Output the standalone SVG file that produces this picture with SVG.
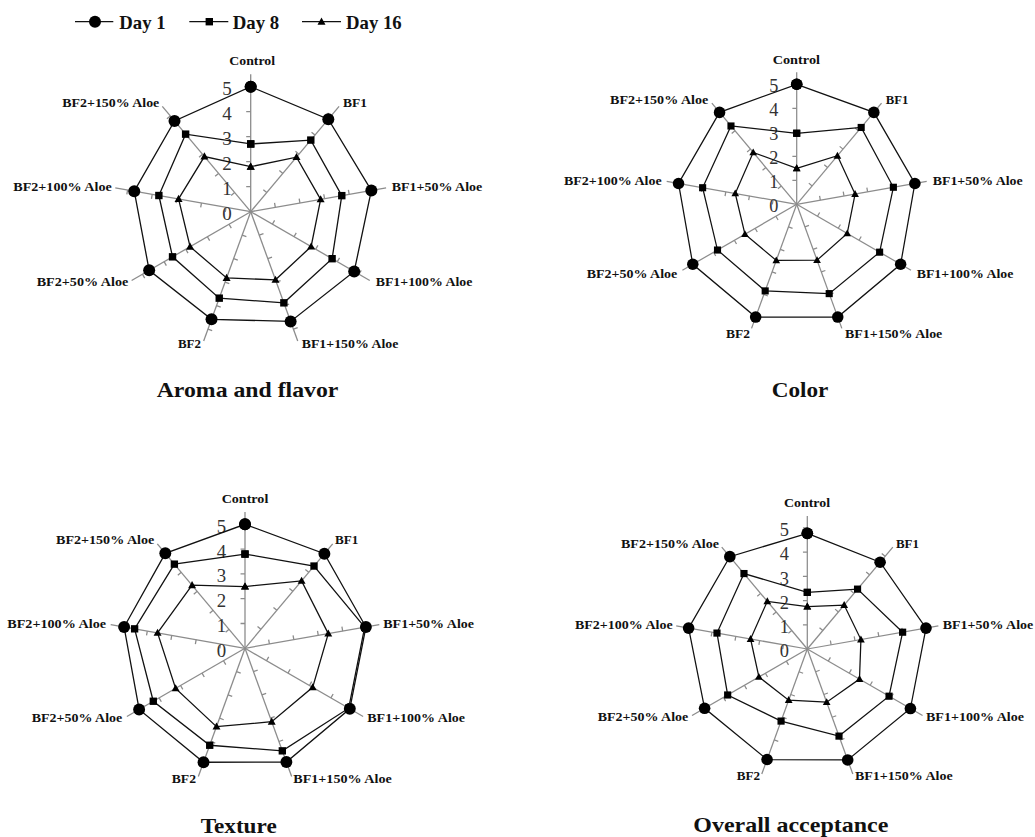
<svg xmlns="http://www.w3.org/2000/svg" xmlns:xlink="http://www.w3.org/1999/xlink" width="1035" height="837" viewBox="0 0 1035 837">
<style>
.ax{stroke:#8c8c8c;stroke-width:1.3;fill:none}
.ser{fill:none;stroke:#111;stroke-width:1.3}
.d1{marker-start:url(#mc);marker-mid:url(#mc);marker-end:url(#mc)}
.d8{marker-start:url(#ms);marker-mid:url(#ms);marker-end:url(#ms)}
.d16{marker-start:url(#mt);marker-mid:url(#mt);marker-end:url(#mt)}
.num{font-family:"Liberation Serif","Times New Roman",serif;font-size:19px;fill:#333;text-anchor:end}
.lbl{font-family:"Liberation Serif","Times New Roman",serif;font-weight:bold;font-size:12.5px;fill:#111}
.ttl{font-family:"Liberation Serif","Times New Roman",serif;font-weight:bold;font-size:21px;fill:#111}
.leg{font-family:"Liberation Serif","Times New Roman",serif;font-weight:bold;font-size:19px;fill:#111}
</style>
<defs>
<marker id="mc" markerUnits="userSpaceOnUse" markerWidth="16" markerHeight="16" viewBox="-8 -8 16 16" refX="0" refY="0" orient="0"><circle r="6" fill="#000"/></marker>
<marker id="ms" markerUnits="userSpaceOnUse" markerWidth="16" markerHeight="16" viewBox="-8 -8 16 16" refX="0" refY="0" orient="0"><rect x="-3.7" y="-3.7" width="7.4" height="7.4" fill="#000"/></marker>
<marker id="mt" markerUnits="userSpaceOnUse" markerWidth="16" markerHeight="16" viewBox="-8 -8 16 16" refX="0" refY="0" orient="0"><polygon points="0,-4.2 4,3 -4,3" fill="#000"/></marker>
<g id="axis1">
<line class="ax" x1="0" y1="0" x2="0" y2="-137.5"/>
<path class="ax" d="M0,-25h-4.5M0,-50h-4.5M0,-75h-4.5M0,-100h-4.5M0,-125h-4.5"/>
</g>
<g id="axes">
<use xlink:href="#axis1"/>
<use xlink:href="#axis1" transform="rotate(40)"/>
<use xlink:href="#axis1" transform="rotate(80)"/>
<use xlink:href="#axis1" transform="rotate(120)"/>
<use xlink:href="#axis1" transform="rotate(160)"/>
<use xlink:href="#axis1" transform="rotate(200)"/>
<use xlink:href="#axis1" transform="rotate(240)"/>
<use xlink:href="#axis1" transform="rotate(280)"/>
<use xlink:href="#axis1" transform="rotate(320)"/>
</g>
<g id="nums">
<text class="num" x="-19" y="8.5">0</text>
<text class="num" x="-19" y="-16.5">1</text>
<text class="num" x="-19" y="-41.5">2</text>
<text class="num" x="-19" y="-66.5">3</text>
<text class="num" x="-19" y="-91.5">4</text>
<text class="num" x="-19" y="-116.5">5</text>
</g>
</defs>
<rect width="1035" height="837" fill="#fff"/>

<g id="legend">
<line x1="75" y1="21.7" x2="113.3" y2="21.7" stroke="#111" stroke-width="1.3"/>
<circle cx="95" cy="21.7" r="6" fill="#000"/>
<text class="leg" x="119.3" y="29.3" textLength="46.3" lengthAdjust="spacingAndGlyphs">Day 1</text>
<line x1="189.3" y1="21.7" x2="228.3" y2="21.7" stroke="#111" stroke-width="1.3"/>
<rect x="205.6" y="18" width="7.4" height="7.4" fill="#000"/>
<text class="leg" x="232.7" y="29.3" textLength="46.5" lengthAdjust="spacingAndGlyphs">Day 8</text>
<line x1="302" y1="21.7" x2="341" y2="21.7" stroke="#111" stroke-width="1.3"/>
<polygon points="321.5,17.5 325.5,24.7 317.5,24.7" fill="#000"/>
<text class="leg" x="346" y="29.3" textLength="55.7" lengthAdjust="spacingAndGlyphs">Day 16</text>
</g>

<g id="chart-aroma">
<g transform="translate(250.7,211.7)">
<use xlink:href="#axes"/>
<use xlink:href="#nums"/>
<polygon class="ser d1" points="0,-125 77.62,-92.49 120.64,-21.27 103.49,59.75 39.93,109.71 -39.16,107.6 -101.54,58.63 -116.45,-20.53 -76.17,-90.77"/>
<polygon class="ser d8" points="0,-67.75 60.1,-71.62 91.09,-16.06 81.4,47 33.17,91.15 -31.46,86.45 -78.16,45.13 -91.83,-16.19 -65.08,-77.56"/>
<polygon class="ser d16" points="0,-45 45.8,-54.58 69.92,-12.33 60.4,34.88 24.8,68.13 -24.11,66.25 -60.62,35 -72.14,-12.72 -46.28,-55.15"/>
</g>
<text class="lbl" x="229.3" y="65" textLength="45.7" lengthAdjust="spacingAndGlyphs">Control</text>
<text class="lbl" x="343" y="107" textLength="24" lengthAdjust="spacingAndGlyphs">BF1</text>
<text class="lbl" x="391.7" y="191" textLength="90.6" lengthAdjust="spacingAndGlyphs">BF1+50% Aloe</text>
<text class="lbl" x="375.7" y="286" textLength="96.6" lengthAdjust="spacingAndGlyphs">BF1+100% Aloe</text>
<text class="lbl" x="301.7" y="348" textLength="96.6" lengthAdjust="spacingAndGlyphs">BF1+150% Aloe</text>
<text class="lbl" x="178" y="348" textLength="23" lengthAdjust="spacingAndGlyphs">BF2</text>
<text class="lbl" x="36.7" y="286" textLength="91.6" lengthAdjust="spacingAndGlyphs">BF2+50% Aloe</text>
<text class="lbl" x="13.3" y="191" textLength="98.4" lengthAdjust="spacingAndGlyphs">BF2+100% Aloe</text>
<text class="lbl" x="62.3" y="107" textLength="97" lengthAdjust="spacingAndGlyphs">BF2+150% Aloe</text>
<text class="ttl" x="156.7" y="396.7" textLength="181.7" lengthAdjust="spacingAndGlyphs">Aroma and flavor</text>
</g>

<g id="chart-color">
<g transform="translate(796.7,204.3) scale(0.96)">
<use xlink:href="#axes"/>
<use xlink:href="#nums"/>
<polygon class="ser d1" points="0,-125 80.35,-95.75 123.1,-21.7 108.25,62.5 42.75,117.46 -42.75,117.46 -108.25,62.5 -123.1,-21.7 -80.35,-95.75"/>
<polygon class="ser d8" points="0,-74 67.17,-80.05 100.7,-17.75 86.38,49.88 33.86,93.03 -32.83,90.21 -82.49,47.63 -97.99,-17.27 -68.46,-81.58"/>
<polygon class="ser d16" points="0,-37.5 42.42,-50.56 60.81,-10.72 52.61,30.38 21.2,58.26 -21.29,58.5 -53.91,31.13 -64.01,-11.28 -45.32,-54"/>
</g>
<text class="lbl" x="772.7" y="64" textLength="47.3" lengthAdjust="spacingAndGlyphs">Control</text>
<text class="lbl" x="885.7" y="104" textLength="22.6" lengthAdjust="spacingAndGlyphs">BF1</text>
<text class="lbl" x="932.7" y="185" textLength="90" lengthAdjust="spacingAndGlyphs">BF1+50% Aloe</text>
<text class="lbl" x="916.7" y="277.5" textLength="96.6" lengthAdjust="spacingAndGlyphs">BF1+100% Aloe</text>
<text class="lbl" x="845" y="337.5" textLength="97.3" lengthAdjust="spacingAndGlyphs">BF1+150% Aloe</text>
<text class="lbl" x="726" y="337.5" textLength="24" lengthAdjust="spacingAndGlyphs">BF2</text>
<text class="lbl" x="586.7" y="277.5" textLength="90.6" lengthAdjust="spacingAndGlyphs">BF2+50% Aloe</text>
<text class="lbl" x="564" y="185" textLength="97.7" lengthAdjust="spacingAndGlyphs">BF2+100% Aloe</text>
<text class="lbl" x="610" y="104" textLength="98.3" lengthAdjust="spacingAndGlyphs">BF2+150% Aloe</text>
<text class="ttl" x="771.7" y="396.5" textLength="56.7" lengthAdjust="spacingAndGlyphs">Color</text>
</g>

<g id="chart-texture">
<g transform="translate(245,648.3) scale(0.992)">
<use xlink:href="#axes"/>
<use xlink:href="#nums"/>
<polygon class="ser d1" points="0,-125 80.03,-95.37 121.87,-21.48 105.65,61 41.72,114.64 -41.81,114.88 -106.73,61.63 -121.87,-21.48 -80.35,-95.75"/>
<polygon class="ser d8" points="0,-95 69.58,-82.92 120.64,-21.27 104.57,60.38 37.62,103.37 -35.57,97.73 -92.45,53.38 -111.28,-19.62 -71.19,-84.83"/>
<polygon class="ser d16" points="0,-62.25 57.05,-67.98 83.95,-14.8 68.2,39.38 26.93,74 -28.73,78.93 -69.93,40.38 -88.14,-15.54 -53.35,-63.58"/>
</g>
<text class="lbl" x="221.7" y="503" textLength="46.6" lengthAdjust="spacingAndGlyphs">Control</text>
<text class="lbl" x="335" y="544" textLength="23.3" lengthAdjust="spacingAndGlyphs">BF1</text>
<text class="lbl" x="383.3" y="627.5" textLength="90.7" lengthAdjust="spacingAndGlyphs">BF1+50% Aloe</text>
<text class="lbl" x="367.3" y="721.5" textLength="97.7" lengthAdjust="spacingAndGlyphs">BF1+100% Aloe</text>
<text class="lbl" x="293.3" y="783" textLength="98.4" lengthAdjust="spacingAndGlyphs">BF1+150% Aloe</text>
<text class="lbl" x="171.7" y="783" textLength="24.3" lengthAdjust="spacingAndGlyphs">BF2</text>
<text class="lbl" x="31.7" y="721.5" textLength="90.6" lengthAdjust="spacingAndGlyphs">BF2+50% Aloe</text>
<text class="lbl" x="7.3" y="627.5" textLength="98.7" lengthAdjust="spacingAndGlyphs">BF2+100% Aloe</text>
<text class="lbl" x="56" y="544" textLength="98.3" lengthAdjust="spacingAndGlyphs">BF2+150% Aloe</text>
<text class="ttl" x="200.7" y="833" textLength="76" lengthAdjust="spacingAndGlyphs">Texture</text>
</g>

<g id="chart-overall">
<g transform="translate(807.3,649) scale(0.968)">
<use xlink:href="#axes"/>
<use xlink:href="#nums"/>
<polygon class="ser d1" points="0,-119.5 75.21,-89.62 122.61,-21.61 106.52,61.5 41.72,114.64 -41.55,114.17 -106.09,61.25 -122.61,-21.61 -80.03,-95.37"/>
<polygon class="ser d8" points="0,-58.5 51.91,-61.85 98.48,-17.36 84.44,48.75 32.75,89.98 -27.1,74.47 -82.27,47.5 -93.31,-16.45 -65.41,-77.94"/>
<polygon class="ser d16" points="0,-43.75 38.09,-45.39 55.4,-9.77 53.91,31.13 20.01,54.97 -19.24,52.86 -50.01,28.88 -58.6,-10.33 -41.3,-49.22"/>
</g>
<text class="lbl" x="784" y="507" textLength="46" lengthAdjust="spacingAndGlyphs">Control</text>
<text class="lbl" x="896" y="548" textLength="23" lengthAdjust="spacingAndGlyphs">BF1</text>
<text class="lbl" x="942.7" y="629" textLength="90.6" lengthAdjust="spacingAndGlyphs">BF1+50% Aloe</text>
<text class="lbl" x="926" y="721" textLength="98" lengthAdjust="spacingAndGlyphs">BF1+100% Aloe</text>
<text class="lbl" x="855" y="780" textLength="97.7" lengthAdjust="spacingAndGlyphs">BF1+150% Aloe</text>
<text class="lbl" x="736.7" y="780" textLength="23.3" lengthAdjust="spacingAndGlyphs">BF2</text>
<text class="lbl" x="597.7" y="721" textLength="90.6" lengthAdjust="spacingAndGlyphs">BF2+50% Aloe</text>
<text class="lbl" x="575" y="629" textLength="97.7" lengthAdjust="spacingAndGlyphs">BF2+100% Aloe</text>
<text class="lbl" x="621" y="548" textLength="98" lengthAdjust="spacingAndGlyphs">BF2+150% Aloe</text>
<text class="ttl" x="693.3" y="831.5" textLength="195" lengthAdjust="spacingAndGlyphs">Overall acceptance</text>
</g>
</svg>
